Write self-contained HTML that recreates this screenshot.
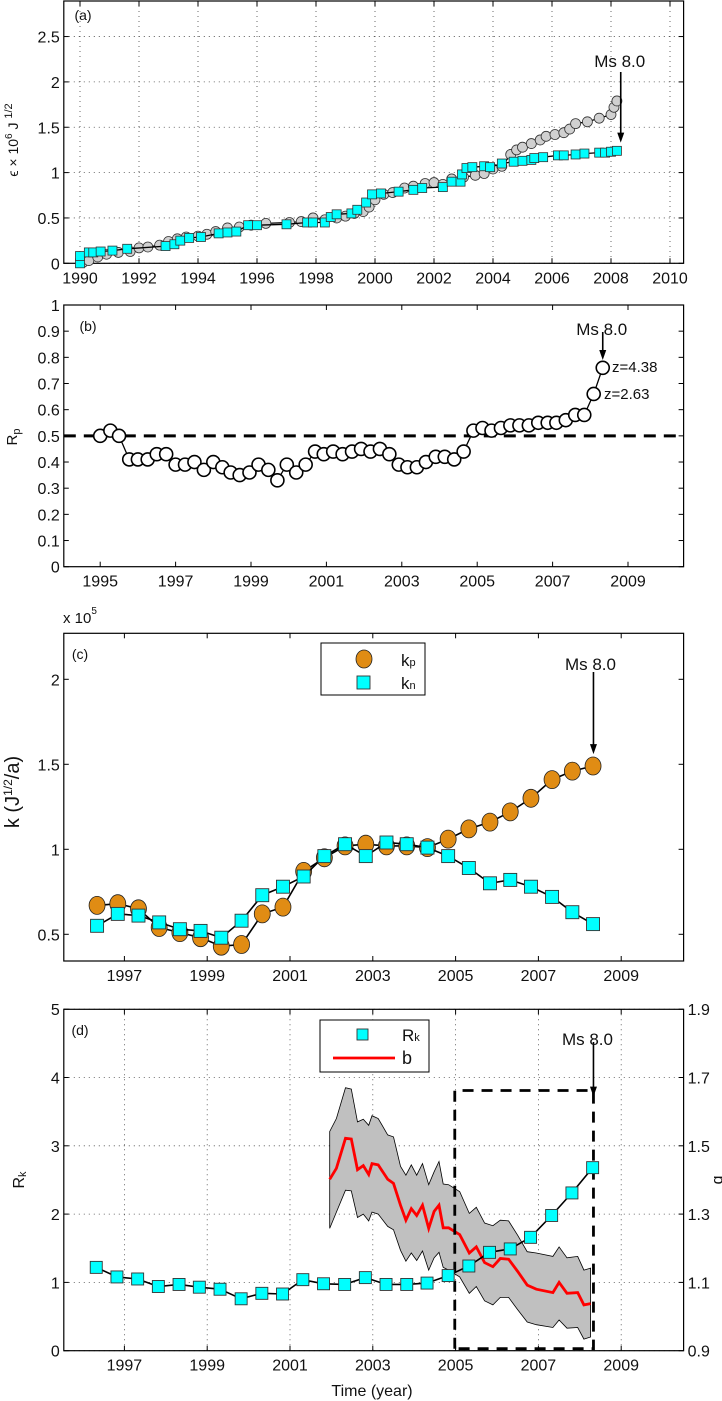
<!DOCTYPE html>
<html><head><meta charset="utf-8"><style>
html,body{margin:0;padding:0;background:#fff;}
svg{display:block;font-family:"Liberation Sans Narrow","Liberation Sans",sans-serif;}
</style></head><body>
<svg id="fig" width="722" height="1401" viewBox="0 0 722 1401" xmlns="http://www.w3.org/2000/svg"></svg>
<script>
// ---------- Panel (a) data ----------
const aSqYears=[1990.0,1990.0,1990.3,1990.45,1990.7,1991.1,1991.6,1992.9,1993.2,1993.4,1993.7,1994.1,1994.7,1995.0,1995.3,1995.7,1996.0,1997.0,1997.7,1997.9,1998.3,1998.5,1998.7,1999.2,1999.4,1999.7,1999.9,2000.2,2000.8,2001.3,2001.6,2002.3,2002.6,2002.9,2002.95,2003.1,2003.3,2003.7,2003.9,2004.3,2004.7,2005.0,2005.3,2005.4,2005.7,2006.2,2006.4,2006.8,2007.1,2007.6,2007.8,2008.0,2008.2];
const aSqVals=[0.0,0.08,0.12,0.12,0.13,0.14,0.16,0.19,0.21,0.25,0.28,0.29,0.33,0.34,0.35,0.42,0.42,0.43,0.45,0.45,0.45,0.51,0.54,0.55,0.59,0.67,0.76,0.77,0.79,0.81,0.83,0.84,0.9,0.9,0.98,1.05,1.06,1.07,1.06,1.1,1.12,1.13,1.14,1.16,1.17,1.19,1.19,1.2,1.21,1.22,1.22,1.23,1.24];
const aCirYears=[1990.1,1990.3,1990.6,1990.9,1991.3,1991.7,1992.0,1992.3,1992.7,1993.0,1993.3,1993.6,1994.0,1994.3,1994.6,1995.0,1995.4,1995.8,1996.3,1997.1,1997.5,1997.9,1998.3,1998.7,1999.0,1999.3,1999.6,1999.8,2000.0,2000.3,2000.6,2001.0,2001.3,2001.7,2002.0,2002.3,2002.6,2003.0,2003.4,2003.7,2004.0,2004.3,2004.6,2004.8,2005.0,2005.3,2005.6,2005.8,2006.1,2006.4,2006.6,2006.8,2007.2,2007.6,2008.0,2008.1,2008.2];
const aCirVals=[0.01,0.03,0.07,0.1,0.12,0.13,0.17,0.18,0.2,0.24,0.27,0.29,0.3,0.32,0.35,0.39,0.4,0.42,0.44,0.45,0.46,0.5,0.48,0.5,0.52,0.55,0.57,0.62,0.7,0.76,0.78,0.83,0.85,0.88,0.89,0.87,0.93,0.95,0.97,0.99,1.04,1.07,1.2,1.25,1.28,1.32,1.36,1.4,1.42,1.44,1.48,1.54,1.56,1.6,1.64,1.72,1.79];
const aXTicks=[1990,1992,1994,1996,1998,2000,2002,2004,2006,2008,2010];
const aYTicks=[0,0.5,1,1.5,2,2.5];
const aYLabels=["0","0.5","1","1.5","2","2.5"];
// ---------- Panel (b) data ----------
const bYears=[1995.0,1995.27,1995.5,1995.77,1996.0,1996.26,1996.5,1996.75,1997.0,1997.25,1997.5,1997.75,1998.0,1998.24,1998.46,1998.7,1998.96,1999.2,1999.46,1999.7,1999.95,2000.2,2000.45,2000.7,2000.93,2001.18,2001.43,2001.68,2001.92,2002.17,2002.42,2002.67,2002.92,2003.15,2003.4,2003.64,2003.9,2004.14,2004.39,2004.64,2004.9,2005.14,2005.38,2005.63,2005.88,2006.12,2006.37,2006.62,2006.87,2007.1,2007.35,2007.6,2007.84,2008.09,2008.33];
const bVals=[0.5,0.52,0.5,0.41,0.41,0.41,0.43,0.43,0.39,0.39,0.4,0.37,0.4,0.38,0.36,0.35,0.36,0.39,0.37,0.33,0.39,0.36,0.39,0.44,0.43,0.44,0.43,0.44,0.45,0.44,0.45,0.43,0.39,0.38,0.38,0.4,0.42,0.42,0.41,0.44,0.52,0.53,0.52,0.53,0.54,0.54,0.54,0.55,0.55,0.55,0.56,0.58,0.58,0.66,0.76];
const bXTicks=[1995,1997,1999,2001,2003,2005,2007,2009];
const bYTicks=[0,0.1,0.2,0.3,0.4,0.5,0.6,0.7,0.8,0.9,1];
const bYLabels=["0","0.1","0.2","0.3","0.4","0.5","0.6","0.7","0.8","0.9","1"];
// ---------- Panel (c) data ----------
const cYears=[1996.34,1996.84,1997.34,1997.84,1998.34,1998.84,1999.34,1999.83,2000.33,2000.83,2001.33,2001.83,2002.33,2002.83,2003.33,2003.82,2004.32,2004.82,2005.32,2005.83,2006.32,2006.82,2007.33,2007.82,2008.32];
const cKp=[0.67,0.68,0.65,0.54,0.51,0.48,0.43,0.44,0.62,0.66,0.87,0.95,1.02,1.03,1.02,1.02,1.01,1.06,1.12,1.16,1.22,1.3,1.41,1.46,1.49];
const cKn=[0.55,0.62,0.61,0.57,0.53,0.52,0.48,0.58,0.73,0.78,0.84,0.96,1.03,0.96,1.04,1.03,1.01,0.96,0.89,0.8,0.82,0.78,0.72,0.63,0.56];
const cXTicks=[1997,1999,2001,2003,2005,2007,2009];
const cYTicks=[0.5,1,1.5,2];
const cYLabels=["0.5","1","1.5","2"];
// ---------- Panel (d) data ----------
const dYears=[1996.32,1996.82,1997.32,1997.82,1998.32,1998.81,1999.31,1999.82,2000.32,2000.82,2001.31,2001.81,2002.32,2002.82,2003.32,2003.82,2004.31,2004.82,2005.32,2005.82,2006.32,2006.81,2007.32,2007.81,2008.31];
const dRk=[1.22,1.08,1.05,0.94,0.97,0.93,0.9,0.76,0.84,0.83,1.04,0.98,0.97,1.07,0.97,0.97,0.99,1.1,1.24,1.44,1.49,1.66,1.98,2.31,2.68];
const bTimes=[2001.96,2002.12,2002.34,2002.48,2002.63,2002.77,2002.9,2002.98,2003.13,2003.36,2003.5,2003.67,2003.8,2003.93,2004.06,2004.2,2004.35,2004.48,2004.6,2004.7,2004.83,2005.1,2005.33,2005.5,2005.7,2005.9,2006.08,2006.28,2006.5,2006.73,2006.95,2007.35,2007.5,2007.69,2007.95,2008.1,2008.26];
const bValue=[1.402,1.434,1.522,1.52,1.43,1.442,1.416,1.448,1.444,1.402,1.39,1.326,1.282,1.316,1.296,1.326,1.258,1.308,1.326,1.26,1.26,1.24,1.186,1.204,1.158,1.146,1.17,1.168,1.132,1.092,1.08,1.07,1.1,1.068,1.07,1.034,1.038];
const bUpper=[1.542,1.58,1.67,1.666,1.57,1.578,1.56,1.588,1.58,1.532,1.526,1.44,1.414,1.444,1.414,1.448,1.386,1.424,1.454,1.388,1.386,1.366,1.302,1.32,1.274,1.266,1.282,1.28,1.238,1.19,1.186,1.176,1.204,1.172,1.176,1.136,1.142];
const bLower=[1.258,1.306,1.37,1.368,1.29,1.3,1.28,1.306,1.3,1.264,1.254,1.194,1.162,1.186,1.164,1.192,1.136,1.172,1.188,1.144,1.136,1.116,1.068,1.088,1.046,1.034,1.056,1.056,1.02,0.984,0.976,0.968,0.99,0.966,0.968,0.934,0.94];
const dXTicks=[1997,1999,2001,2003,2005,2007,2009];
const dYTicks=[0,1,2,3,4,5];
const dYLabels=["0","1","2","3","4","5"];
const dBTicks=[0.9,1.1,1.3,1.5,1.7,1.9];
const dBLabels=["0.9","1.1","1.3","1.5","1.7","1.9"];

const NS='http://www.w3.org/2000/svg';
const svg=document.getElementById('fig');
function mk(tag,attrs,parent){const e=document.createElementNS(NS,tag);for(const k in attrs)e.setAttribute(k,attrs[k]);(parent||svg).appendChild(e);return e;}
function txt(x,y,s,size,anchor,parent){const t=mk('text',{x:x,y:y,'font-size':size,'text-anchor':anchor||'middle',fill:'#111'},parent);t.textContent=s;return t;}
const L=63.8,R=683.6;

function axes(name,top,bot,sx,sy,xt,yt,yl,grid){
  const g=mk('g',{});
  
  
  xt.forEach(v=>{const x=sx(v);
    if(grid){const gl=mk('line',{x1:x,x2:x,y1:top,y2:bot,stroke:'#444','stroke-width':0.8,'stroke-dasharray':'1,4'},g);}
    const t1=mk('line',{x1:x,x2:x,y1:bot,y2:bot-5,stroke:'#000'},g);
    const t2=mk('line',{x1:x,x2:x,y1:top,y2:top+5,stroke:'#000'},g);
    const lb=txt(x,bot+20,String(v),16,'middle',g);
  });
  yt.forEach((v,i)=>{const y=sy(v);
    if(grid){const gl=mk('line',{x1:L,x2:R,y1:y,y2:y,stroke:'#444','stroke-width':0.8,'stroke-dasharray':'1,4'},g);}
    const t1=mk('line',{x1:L,x2:L+5,y1:y,y2:y,stroke:'#000'},g);
    const t2=mk('line',{x1:R,x2:R-5,y1:y,y2:y,stroke:'#000'},g);
    const lb=txt(L-4,y+6,yl[i],16,'end',g);
  });
  const box=mk('rect',{x:L,y:top,width:R-L,height:bot-top,fill:'none',stroke:'#000','stroke-width':1.2},g);
  
  
  return g;
}
function pathD(xs,ys,sx,sy){return xs.map((v,i)=>(i?'L':'M')+sx(v).toFixed(1)+','+sy(ys[i]).toFixed(1)).join('');}
function arrow(x,y1,y2,name){
  const g=mk('g',{});
  
  
  mk('line',{x1:x,x2:x,y1:y1,y2:y2-8,stroke:'#000','stroke-width':1.6},g);
  mk('path',{d:`M${x-3.5},${y2-10}L${x+3.5},${y2-10}L${x},${y2}Z`,fill:'#000'},g);
}

// ===== Panel A =====
(function(){
  const top=1,bot=263.3;
  const sx=v=>80+(v-1990)*29.5, sy=v=>263.3-v*90.7;
  axes('panel-a',top,bot,sx,sy,aXTicks,aYTicks,aYLabels,true);
  const lc=mk('path',{d:pathD(aCirYears,aCirVals,sx,sy),fill:'none',stroke:'#000','stroke-width':1.3});
  
  
  aCirYears.forEach((v,i)=>{const c=mk('circle',{cx:sx(v),cy:sy(aCirVals[i]),r:5,fill:'#d0d0d0',stroke:'#333','stroke-width':0.8});
    
    });
  const ls=mk('path',{d:pathD(aSqYears,aSqVals,sx,sy),fill:'none',stroke:'#000','stroke-width':1.3});
  
  
  aSqYears.forEach((v,i)=>{const r=mk('rect',{x:sx(v)-4.5,y:sy(aSqVals[i])-4.5,width:9,height:9,fill:'#00ffff',stroke:'#333','stroke-width':0.8});
    
    });
  const pl=txt(83,20,'(a)',14,'middle');
  arrow(sx(2008.33),72,sy(1.33),'panel-a-arrow');
  const ms=txt(sx(2008.33)-1,67,'Ms 8.0',17,'middle');
  const yl=mk('text',{x:0,y:0,'font-size':14,'text-anchor':'middle',fill:'#111',transform:'translate(18,140) rotate(-90)'});
  
  
  yl.innerHTML='ϵ × 10<tspan dy="-6" font-size="10">6</tspan><tspan dy="6"> J </tspan><tspan dy="-6" font-size="11">1/2</tspan>';
})();

// ===== Panel B =====
(function(){
  const top=305,bot=566.7;
  const sx=v=>100.2+(v-1995)*37.7, sy=v=>566.7-v*261.7;
  axes('panel-b',top,bot,sx,sy,bXTicks,bYTicks,bYLabels,false);
  const dl=mk('line',{x1:L,x2:R,y1:sy(0.5),y2:sy(0.5),stroke:'#000','stroke-width':3,'stroke-dasharray':'12,8'});
  
  
  const ln=mk('path',{d:pathD(bYears,bVals,sx,sy),fill:'none',stroke:'#000','stroke-width':1.3});
  
  
  bYears.forEach((v,i)=>{const c=mk('circle',{cx:sx(v),cy:sy(bVals[i]),r:6.5,fill:'#fff',stroke:'#000','stroke-width':1.6});
    
    });
  const pl=txt(88,331,'(b)',14,'middle');
  arrow(sx(2008.33),332,sy(0.79),'panel-b-arrow');
  const ms=txt(sx(2008.33)-1,335,'Ms 8.0',17,'middle');
  const z1=txt(612,372,'z=4.38',15,'start');
  const z2=txt(604,399,'z=2.63',15,'start');
  const yl=mk('text',{x:0,y:0,'font-size':15,'text-anchor':'middle',fill:'#111',transform:'translate(17,437) rotate(-90)'});
  
  
  yl.innerHTML='R<tspan font-size="11" dy="3">p</tspan>';
})();

// ===== Panel C =====
(function(){
  const top=633.3,bot=961;
  const sx=v=>124.4+(v-1997)*41.4, sy=v=>849.3-(v-1)*170;
  axes('panel-c',top,bot,sx,sy,cXTicks,cYTicks,cYLabels,false);
  const l1=mk('path',{d:pathD(cYears,cKp,sx,sy),fill:'none',stroke:'#000','stroke-width':1.6});
  
  
  cYears.forEach((v,i)=>{const c=mk('ellipse',{cx:sx(v),cy:sy(cKp[i]),rx:8,ry:9,fill:'#e08c14',stroke:'#222','stroke-width':0.8});
    
    });
  const l2=mk('path',{d:pathD(cYears,cKn,sx,sy),fill:'none',stroke:'#000','stroke-width':1.6});
  
  
  cYears.forEach((v,i)=>{const r=mk('rect',{x:sx(v)-6.5,y:sy(cKn[i])-6.5,width:13,height:13,fill:'#00ffff',stroke:'#333','stroke-width':0.9});
    
    });
  const pl=txt(80,659,'(c)',14,'middle');
  arrow(sx(2008.33),672,sy(1.56),'panel-c-arrow');
  const ms=txt(sx(2008.33)-3,670,'Ms 8.0',17,'middle');
  const ex=mk('text',{x:63,y:623,'font-size':15,fill:'#111'});
  
  
  ex.innerHTML='x 10<tspan dy="-9" font-size="10">5</tspan>';
  const yl=mk('text',{x:0,y:0,'font-size':20,'text-anchor':'middle',fill:'#111',transform:'translate(19,792) rotate(-90)'});
  
  
  yl.innerHTML='k (J<tspan dy="-7" font-size="12">1/2</tspan><tspan dy="7">/a)</tspan>';
  const lg=mk('g',{});
  
  
  mk('rect',{x:321,y:643,width:104,height:52,fill:'#fff',stroke:'#000'},lg);
  mk('ellipse',{cx:364,cy:659,rx:8,ry:9,fill:'#e08c14',stroke:'#222','stroke-width':0.8},lg);
  mk('rect',{x:357,y:676,width:13,height:13,fill:'#00ffff',stroke:'#333','stroke-width':0.9},lg);
  const k1=mk('text',{x:401,y:666,'font-size':17,fill:'#111'},lg);k1.innerHTML='k<tspan font-size="11">p</tspan>';
  const k2=mk('text',{x:401,y:689,'font-size':17,fill:'#111'},lg);k2.innerHTML='k<tspan font-size="11">n</tspan>';
})();

// ===== Panel D =====
(function(){
  const top=1009.3,bot=1350.7;
  const sx=v=>124.4+(v-1997)*41.4, sy=v=>1350.7-v*68.3, sb=v=>sy((v-0.9)/0.2);
  axes('panel-d',top,bot,sx,sy,dXTicks,dYTicks,dYLabels,true);
  dBTicks.forEach((v,i)=>{const t=txt(R+4,sb(v)+6,dBLabels[i],16,'start');
    
    });
  let d=bTimes.map((v,i)=>(i?'L':'M')+sx(v).toFixed(1)+','+sb(bUpper[i]).toFixed(1)).join('');
  for(let i=bTimes.length-1;i>=0;i--)d+='L'+sx(bTimes[i]).toFixed(1)+','+sb(bLower[i]).toFixed(1);
  const band=mk('path',{d:d+'Z',fill:'#c0c0c0',stroke:'#000','stroke-width':0.8});
  
  
  const bl=mk('path',{d:bTimes.map((v,i)=>(i?'L':'M')+sx(v).toFixed(1)+','+sb(bValue[i]).toFixed(1)).join(''),fill:'none',stroke:'#ff0000','stroke-width':2.8});
  
  
  const bx=mk('path',{d:`M${sx(2004.98)},${bot-2}L${sx(2004.98)},${sy(3.81)}L${sx(2008.33)},${sy(3.81)}L${sx(2008.33)},${bot-2}Z`,fill:'none',stroke:'#000','stroke-width':2.8,'stroke-dasharray':'11,8'});
  
  
  const ln=mk('path',{d:pathD(dYears,dRk,sx,sy),fill:'none',stroke:'#000','stroke-width':1.6});
  
  
  dYears.forEach((v,i)=>{const r=mk('rect',{x:sx(v)-6,y:sy(dRk[i])-6,width:12,height:12,fill:'#00ffff',stroke:'#333','stroke-width':0.9});
    
    });
  const pl=txt(80,1035,'(d)',14,'middle');
  arrow(sx(2008.33),1042,sy(3.72),'panel-d-arrow');
  const ms=txt(sx(2008.33)-6,1045,'Ms 8.0',17,'middle');
  const yl=mk('text',{x:0,y:0,'font-size':16,'text-anchor':'middle',fill:'#111',transform:'translate(24,1180) rotate(-90)'});
  
  
  yl.innerHTML='R<tspan font-size="11" dy="2">k</tspan>';
  const yr=mk('text',{x:0,y:0,'font-size':16,'text-anchor':'middle',fill:'#111',transform:'translate(714,1180) rotate(90)'});
  
  
  yr.textContent='b';
  const xt=txt(372,1396,'Time (year)',16,'middle');
  const lg=mk('g',{});
  
  
  mk('rect',{x:320,y:1020,width:109,height:52,fill:'#fff',stroke:'#000'},lg);
  mk('rect',{x:357,y:1029,width:11,height:11,fill:'#00ffff',stroke:'#333','stroke-width':0.9},lg);
  mk('line',{x1:333,x2:395,y1:1058,y2:1058,stroke:'#ff0000','stroke-width':2.8},lg);
  const k1=mk('text',{x:402,y:1041,'font-size':17,fill:'#111'},lg);k1.innerHTML='R<tspan font-size="11">k</tspan>';
  const k2=mk('text',{x:402,y:1064,'font-size':18,fill:'#111'},lg);k2.textContent='b';
})();
</script>
</body></html>
